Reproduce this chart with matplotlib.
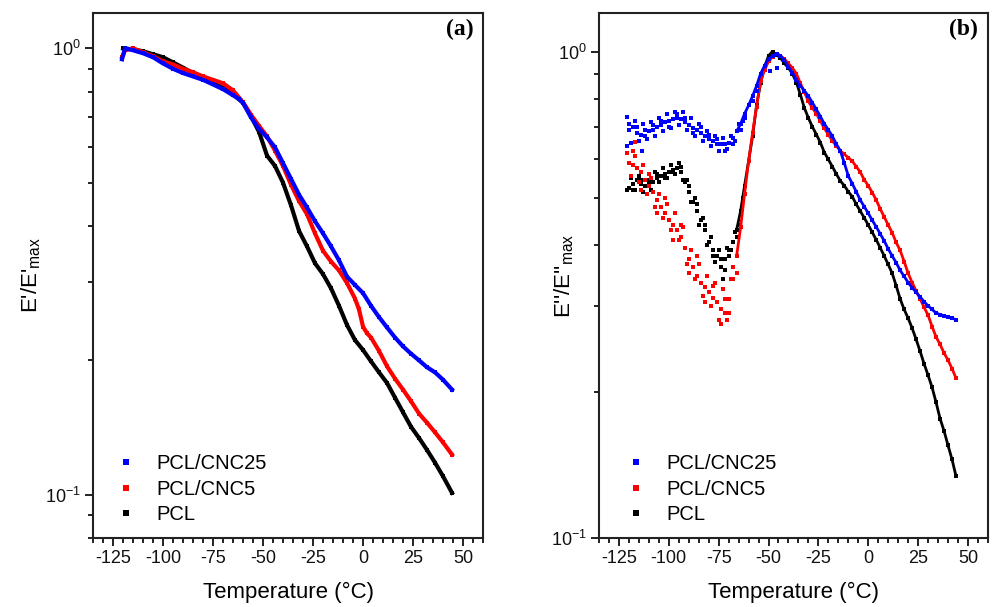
import numpy as np
import matplotlib
matplotlib.use('Agg')
import matplotlib.pyplot as plt
from matplotlib.lines import Line2D
from matplotlib.ticker import MultipleLocator, LogLocator, NullFormatter

plt.rcParams['font.family'] = ['Liberation Sans', 'DejaVu Sans']
plt.rcParams['mathtext.fontset'] = 'custom'
plt.rcParams['mathtext.rm'] = 'Liberation Sans'
plt.rcParams['axes.unicode_minus'] = False

# ---- panel (a): normalized storage modulus E'/E'max ----
a_pcl_T = [-120, -115, -110, -105, -100, -95, -90, -85, -80, -75, -70, -65, -60, -56, -52, -48,
           -44, -40, -36, -32, -28, -24, -20, -16, -12, -8, -4, 0, 4, 8, 12, 16, 20, 24, 28,
           32, 36, 40, 44.5]
a_pcl_v = [1.0, 0.995, 0.985, 0.97, 0.955, 0.93, 0.905, 0.88, 0.855, 0.835, 0.815, 0.79, 0.755,
           0.705, 0.65, 0.575, 0.545, 0.50, 0.445, 0.39, 0.36, 0.33, 0.312, 0.29, 0.265, 0.24,
           0.222, 0.211, 0.199, 0.188, 0.178, 0.165, 0.153, 0.142, 0.134, 0.126, 0.118, 0.110,
           0.101]

a_cnc5_T = [-120.5, -119, -115, -110, -105, -100, -95, -90, -85, -80, -75, -70, -65, -60, -56,
            -52, -48, -44, -40, -36, -32, -28, -24, -20, -16, -12, -8, -4, -2, 0, 2, 4, 8, 12,
            16, 20, 24, 28, 32, 36, 40, 44.5]
a_cnc5_v = [0.955, 0.99, 1.0, 0.98, 0.96, 0.935, 0.92, 0.90, 0.884, 0.865, 0.85, 0.835, 0.805,
            0.757, 0.71, 0.67, 0.635, 0.59, 0.545, 0.495, 0.455, 0.425, 0.385, 0.352, 0.333,
            0.318, 0.298, 0.275, 0.26, 0.238, 0.23, 0.225, 0.21, 0.194, 0.182, 0.172, 0.162,
            0.152, 0.145, 0.138, 0.131, 0.123]

a_cnc25_T = [-120.5, -119, -115, -110, -105, -100, -95, -90, -85, -80, -75, -70, -65, -62, -60,
             -56, -52, -48, -44, -40, -36, -32, -28, -24, -20, -16, -12, -8, -4, 0, 4, 8, 12,
             16, 20, 24, 28, 32, 36, 40, 44.5]
a_cnc25_v = [0.945, 1.0, 0.99, 0.975, 0.955, 0.925, 0.90, 0.88, 0.865, 0.85, 0.83, 0.81, 0.785,
             0.77, 0.755, 0.70, 0.66, 0.632, 0.60, 0.553, 0.51, 0.47, 0.44, 0.41, 0.385, 0.36,
             0.335, 0.308, 0.295, 0.283, 0.265, 0.25, 0.237, 0.225, 0.215, 0.207, 0.20, 0.193,
             0.188, 0.181, 0.172]

# ---- panel (b): normalized loss modulus E''/E''max ----
b_T = np.arange(-120, 46, 2)
b_cnc25_v = [0.69, 0.70, 0.68, 0.675, 0.69, 0.685, 0.69, 0.70, 0.705, 0.715,
             0.72, 0.725, 0.73, 0.725, 0.715, 0.705, 0.695, 0.69, 0.68, 0.67,
             0.66, 0.655, 0.645, 0.645, 0.645, 0.65, 0.665, 0.685, 0.71, 0.745,
             0.775, 0.81, 0.85, 0.90, 0.935, 0.965, 0.98, 0.99, 0.98, 0.96,
             0.93, 0.905, 0.875, 0.85, 0.83, 0.81, 0.785, 0.76, 0.735, 0.71,
             0.69, 0.67, 0.645, 0.625, 0.59, 0.555, 0.535, 0.515, 0.495, 0.48,
             0.465, 0.45, 0.436, 0.422, 0.408, 0.393, 0.38, 0.368, 0.355, 0.345,
             0.335, 0.327, 0.32, 0.313, 0.306, 0.30, 0.295, 0.29, 0.288, 0.286,
             0.284, 0.283, 0.281]
b_cnc5_v = [0.59, 0.585, 0.575, 0.565, 0.545, 0.53, 0.515, 0.495, 0.48, 0.465,
            0.45, 0.44, 0.43, 0.415, 0.395, 0.375, 0.36, 0.345, 0.335, 0.328,
            0.32, 0.312, 0.305, 0.295, 0.29, 0.31, 0.34, 0.38, 0.435, 0.51,
            0.595, 0.68, 0.77, 0.87, 0.915, 0.955, 0.975, 0.99, 0.98, 0.965,
            0.945, 0.925, 0.90, 0.86, 0.825, 0.79, 0.765, 0.745, 0.72, 0.695,
            0.675, 0.655, 0.64, 0.625, 0.615, 0.605, 0.595, 0.58, 0.565, 0.545,
            0.53, 0.513, 0.495, 0.475, 0.457, 0.44, 0.424, 0.405, 0.39, 0.37,
            0.35, 0.335, 0.322, 0.31, 0.298, 0.287, 0.272, 0.259, 0.25, 0.24,
            0.232, 0.223, 0.213]
b_pcl_v = [0.525, 0.535, 0.545, 0.535, 0.53, 0.53, 0.54, 0.55, 0.555, 0.56,
           0.565, 0.57, 0.575, 0.565, 0.54, 0.515, 0.49, 0.47, 0.45, 0.43,
           0.405, 0.39, 0.38, 0.36, 0.375, 0.39, 0.405, 0.43, 0.47, 0.53,
           0.595, 0.67, 0.775, 0.86, 0.93, 0.98, 1.0, 0.985, 0.97, 0.945,
           0.925, 0.90, 0.863, 0.815, 0.765, 0.73, 0.70, 0.675, 0.65, 0.62,
           0.60, 0.58, 0.56, 0.542, 0.53, 0.515, 0.503, 0.485, 0.47, 0.455,
           0.44, 0.425, 0.41, 0.395, 0.38, 0.365, 0.35, 0.33, 0.31, 0.295,
           0.283, 0.27, 0.256, 0.242, 0.228, 0.216, 0.204, 0.19, 0.176, 0.166,
           0.155, 0.145, 0.134]

# scattered points of the noisy low-temperature region (band edges and strays)
b_cnc25_band_T = [-121, -119, -117, -115, -113, -111, -109, -107, -105, -103, -101, -99, -97,
                  -95, -93, -91, -89, -87, -85, -83, -81, -79, -77, -75, -73, -71, -69, -67,
                  -65, -63, -113.5, -121, -49.5, -45.5,
                  -120, -116, -112, -108, -104, -100, -96, -92, -88, -84, -80, -76, -72, -68,
                  -64, -62, -58, -56]
b_cnc25_band_v = [0.735, 0.65, 0.72, 0.655, 0.71, 0.66, 0.715, 0.67, 0.73, 0.685, 0.745, 0.695,
                  0.75, 0.705, 0.75, 0.69, 0.73, 0.67, 0.71, 0.655, 0.685, 0.64, 0.67, 0.625,
                  0.665, 0.63, 0.67, 0.655, 0.71, 0.72, 0.623, 0.64, 0.91, 0.927,
                  0.71, 0.70, 0.67, 0.705, 0.72, 0.70, 0.745, 0.73, 0.68, 0.70, 0.675, 0.66,
                  0.625, 0.645, 0.69, 0.73, 0.79, 0.83]
b_cnc5_band_T = [-121, -119, -117, -115, -113, -111, -109, -107, -105, -103, -101, -99, -97,
                 -95, -93, -91, -89, -87, -85, -83, -81, -79, -77, -75, -73, -71, -69, -117,
                 -118, -114, -110, -106, -102, -98, -94, -90, -86, -82, -78, -74, -72, -70,
                 -68, -66]
b_cnc5_band_v = [0.62, 0.555, 0.61, 0.54, 0.585, 0.51, 0.55, 0.48, 0.51, 0.455, 0.485, 0.43,
                 0.465, 0.41, 0.435, 0.365, 0.39, 0.34, 0.365, 0.315, 0.345, 0.30, 0.335, 0.28,
                 0.325, 0.28, 0.34, 0.653,
                 0.625, 0.52, 0.56, 0.465, 0.50, 0.41, 0.44, 0.35, 0.38, 0.305, 0.33, 0.275,
                 0.31, 0.29, 0.36, 0.35]
b_pcl_band_T = [-121, -119, -117, -115, -113, -111, -109, -107, -105, -103, -101, -99, -97,
                -95, -93, -91, -89, -87, -85, -83, -81, -79, -77, -75, -73, -71, -69, -67,
                -65, -63,
                -118, -114, -110, -106, -102, -98, -94, -90, -86, -82, -78, -74, -72, -70, -66]
b_pcl_band_v = [0.52, 0.55, 0.52, 0.555, 0.515, 0.545, 0.52, 0.565, 0.54, 0.575, 0.55, 0.585,
                0.56, 0.59, 0.545, 0.545, 0.49, 0.50, 0.44, 0.455, 0.40, 0.415, 0.37, 0.39,
                0.34, 0.395, 0.39, 0.425, 0.44, 0.50,
                0.52, 0.545, 0.54, 0.56, 0.55, 0.565, 0.58, 0.53, 0.485, 0.44, 0.38, 0.375,
                0.355, 0.38, 0.415]

labels = ['PCL/CNC25', 'PCL/CNC5', 'PCL']
colors = ['#0000ff', '#ff0000', '#000000']

fig = plt.figure(figsize=(9.93, 6.07), dpi=100)
ax_a = fig.add_axes([0.0937, 0.1137, 0.3927, 0.8649])
ax_b = fig.add_axes([0.6032, 0.1137, 0.3917, 0.8649])

# panel (a)
for T, v, c in [(a_pcl_T, a_pcl_v, colors[2]), (a_cnc5_T, a_cnc5_v, colors[1]),
                (a_cnc25_T, a_cnc25_v, colors[0])]:
    ax_a.plot(T, v, color=c, lw=3, marker='s', ms=3.2, mew=0)

# panel (b): dense points, the smooth high-temperature part reads as a chain of dots
smooth = b_T >= -66
for v, bt, bv, c in [(b_pcl_v, b_pcl_band_T, b_pcl_band_v, colors[2]),
                     (b_cnc5_v, b_cnc5_band_T, b_cnc5_band_v, colors[1]),
                     (b_cnc25_v, b_cnc25_band_T, b_cnc25_band_v, colors[0])]:
    v = np.array(v)
    ax_b.plot(b_T[smooth], v[smooth], color=c, lw=2.0)
    ax_b.plot(b_T, v, ls='none', color=c, marker='s', ms=3.3, mew=0)
    ax_b.plot(bt, bv, ls='none', color=c, marker='s', ms=3.0, mew=0)

for ax, ylim, tag, ylab, lx, legx in [(ax_a, (0.08, 1.2), '(a)', "E'/E'$_\\mathrm{max}$", -0.128, 0.059),
                                      (ax_b, (0.1, 1.2), '(b)', "E''/E''$_\\mathrm{max}$", -0.06, 0.069)]:
    ax.set_yscale('log')
    ax.set_xlim(-135, 60)
    ax.set_ylim(*ylim)
    ax.xaxis.set_major_locator(MultipleLocator(25))
    ax.xaxis.set_minor_locator(MultipleLocator(5))
    ax.yaxis.set_major_locator(LogLocator(base=10))
    ax.yaxis.set_minor_locator(LogLocator(base=10, subs=np.arange(2, 10)))
    ax.yaxis.set_minor_formatter(NullFormatter())
    ax.tick_params(which='both', direction='out', top=False, right=False, width=1.3,
                   labelsize=13, colors='#111111')
    ax.tick_params(which='major', length=6, pad=3)
    ax.tick_params(which='minor', length=3.5)
    for sp in ax.spines.values():
        sp.set_linewidth(1.5)
        sp.set_color('#222222')
    ax.set_xlabel('Temperature (°C)', fontsize=16)
    ax.xaxis.set_label_coords(0.5, -0.083)
    ax.set_ylabel(ylab, fontsize=16)
    ax.yaxis.set_label_coords(lx, 0.5)
    ax.text(0.975, 0.968, tag, transform=ax.transAxes, ha='right', va='center',
            fontsize=17, fontweight='bold', family='Liberation Serif')
    handles = [Line2D([], [], ls='none', marker='s', ms=5, mew=0, color=c) for c in colors]
    ax.legend(handles, labels, loc='center left', bbox_to_anchor=(legx, 0.093), frameon=False,
              fontsize=14.5, handlelength=1.0, handletextpad=1.0, labelspacing=0.33,
              borderpad=0, borderaxespad=0)

plt.savefig('out.png', dpi=100)
